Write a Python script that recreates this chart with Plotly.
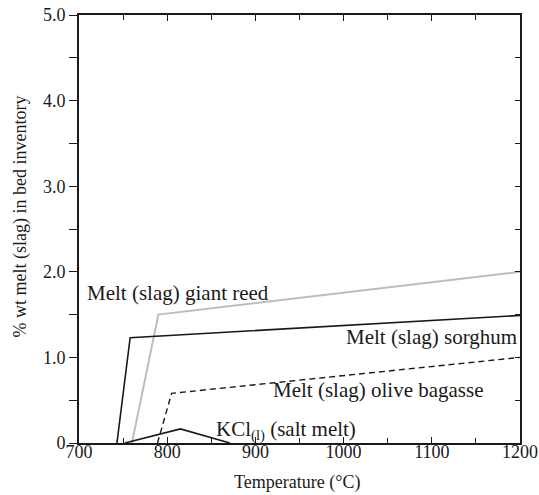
import plotly.graph_objects as go

sorghum_x = [743, 758, 1200]
sorghum_y = [0.0, 1.23, 1.49]
reed_x = [760, 790, 1200]
reed_y = [0.0, 1.50, 2.00]
olive_x = [789, 805, 1200]
olive_y = [0.0, 0.58, 1.00]
kcl_x = [752, 815, 871]
kcl_y = [0.0, 0.165, 0.0]

x_ticks = [700, 800, 900, 1000, 1100, 1200]
x_ticklabels = ["700", "800", "900", "1000", "1100", "1200"]
y_ticks = [0, 1, 2, 3, 4, 5]
y_ticklabels = ["0", "1.0", "2.0", "3.0", "4.0", "5.0"]

FONT = "Liberation Serif"
INK = "#1a1a1a"
fig = go.Figure()
fig.add_trace(go.Scatter(x=reed_x, y=reed_y, mode="lines", line=dict(color="#bdbdbd", width=2)))
fig.add_trace(go.Scatter(x=sorghum_x, y=sorghum_y, mode="lines", line=dict(color=INK, width=1.6)))
fig.add_trace(go.Scatter(x=olive_x, y=olive_y, mode="lines", line=dict(color=INK, width=1.4, dash="6px,4px")))
fig.add_trace(go.Scatter(x=kcl_x, y=kcl_y, mode="lines", line=dict(color=INK, width=1.6)))
fig.add_trace(go.Scatter(x=[700], y=[0], yaxis="y2", mode="markers", marker=dict(opacity=0), hoverinfo="skip"))

annots = [
    dict(x=812, y=1.75, text="Melt (slag) giant reed", xanchor="center"),
    dict(x=1199, y=1.24, text="Melt (slag) sorghum", xanchor="right"),
    dict(x=1040, y=0.62, text="Melt (slag) olive bagasse", xanchor="center"),
    dict(x=853, y=0.15, text="KCl<sub>(l)</sub> (salt melt)", xanchor="left"),
]
for a in annots:
    fig.add_annotation(x=a["x"], y=a["y"], text=a["text"], xanchor=a["xanchor"], yanchor="middle",
                       showarrow=False, font=dict(family=FONT, size=21, color=INK))

# axis titles
fig.add_annotation(xref="paper", yref="paper", x=0.494, y=-0.093, text="Temperature (°C)",
                   showarrow=False, xanchor="center", yanchor="middle",
                   font=dict(family=FONT, size=18, color=INK))
fig.add_annotation(xref="paper", yref="paper", x=-0.133, y=0.53, text="% wt melt (slag) in bed inventory",
                   showarrow=False, xanchor="center", yanchor="middle", textangle=-90,
                   font=dict(family=FONT, size=18, color=INK))

axis_common = dict(showgrid=False, zeroline=False, showline=True, linecolor=INK, linewidth=1.6,
                   tickcolor=INK, tickwidth=1.3, tickfont=dict(family=FONT, size=18, color=INK),
                   automargin=False)

fig.update_layout(
    width=539, height=495,
    margin=dict(l=79, r=19, t=15, b=52, autoexpand=False),
    paper_bgcolor="white", plot_bgcolor="white",
    showlegend=False,
    xaxis=dict(range=[700, 1200], tickvals=x_ticks, ticktext=x_ticklabels, ticks="inside", ticklen=6,
               mirror="ticks", ticklabelstandoff=-8,
               minor=dict(dtick=50, tick0=700, ticks="inside", ticklen=5, tickcolor=INK, tickwidth=1.3),
               **axis_common),
    yaxis=dict(range=[0, 5], tickvals=y_ticks, ticktext=y_ticklabels, ticks="outside", ticklen=8,
               minor=dict(dtick=0.5, tick0=0, ticks="outside", ticklen=8, tickcolor=INK, tickwidth=1.3),
               **axis_common),
    yaxis2=dict(range=[0, 5], overlaying="y", side="right", showgrid=False, zeroline=False, showline=True,
                linecolor=INK, linewidth=1.6, tickvals=y_ticks, ticks="inside", ticklen=5, tickcolor=INK,
                tickwidth=1.3, showticklabels=False, automargin=False,
                minor=dict(dtick=0.5, tick0=0, ticks="inside", ticklen=5, tickcolor=INK, tickwidth=1.3)),
)
fig.write_html("out.html", config={"displayModeBar": False},
               post_script="document.body.style.margin='0px';document.body.style.padding='0px';")
